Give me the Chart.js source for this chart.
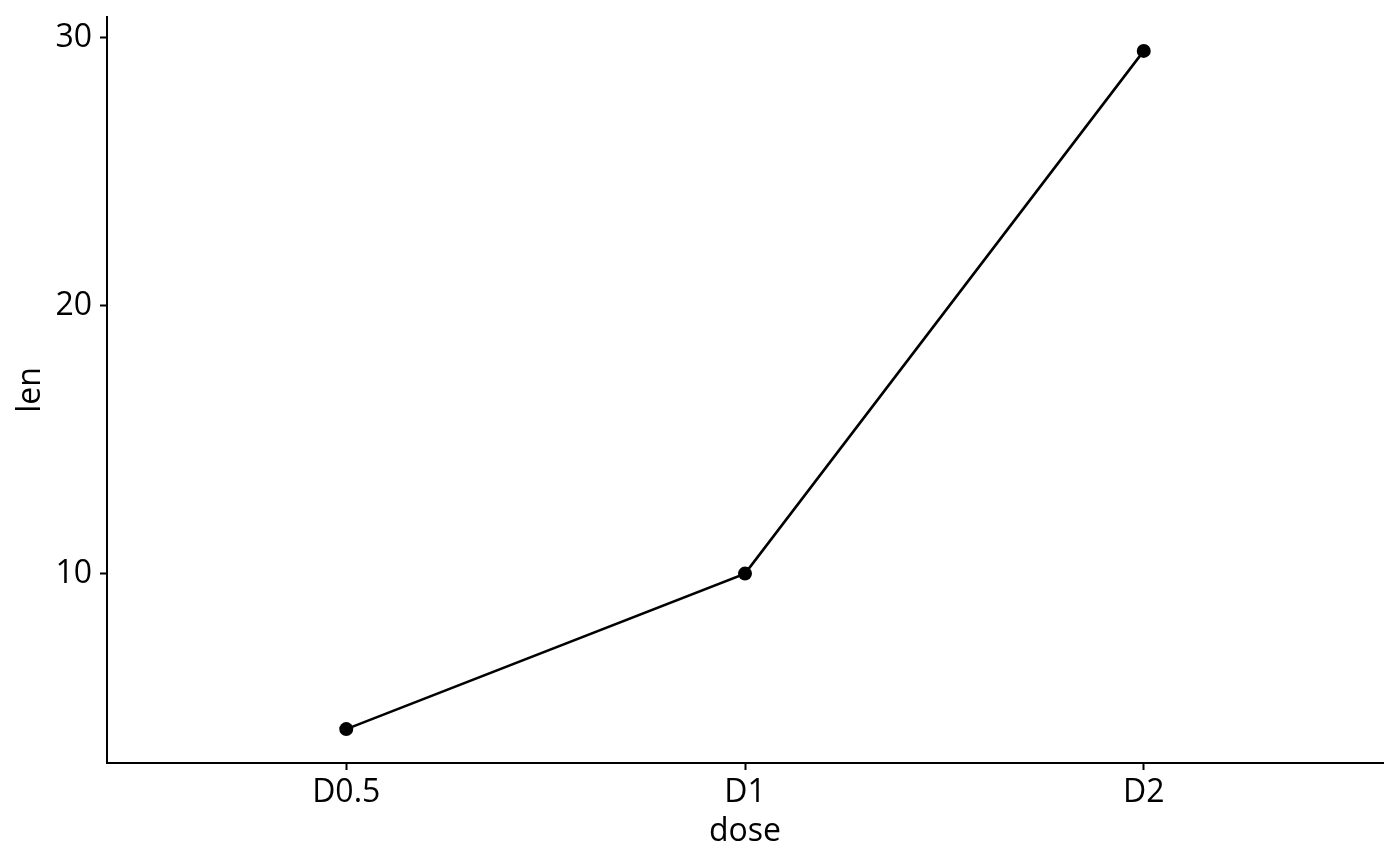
<!DOCTYPE html>
<html lang="en">
<head>
    <meta charset="UTF-8">
    <title>len by dose</title>
    <script src="https://cdn.jsdelivr.net/npm/chart.js"></script>
    <style>
        html, body {
            margin: 0;
            padding: 0;
            background: #fff;
        }
        canvas {
            display: block;
        }
    </style>
</head>
<body>
    <canvas id="doseChart" width="1400" height="866"></canvas>

    <script>
        // Data
        const doses = ['D0.5', 'D1', 'D2'];
        const lenValues = [4.2, 10, 29.5];
        const yTicks = [10, 20, 30];

        // ggplot-like expansion: 5% on the continuous axis, 0.6 on the discrete one
        const yMin = 4.2 - 0.05 * (29.5 - 4.2);
        const yMax = 29.5 + 0.05 * (29.5 - 4.2);

        Chart.defaults.font.family = '"Open Sans", "Noto Sans", sans-serif';
        Chart.defaults.color = '#000';

        const points = lenValues.map((v, i) => ({ x: i, y: v }));

        const ctx = document.getElementById('doseChart').getContext('2d');
        new Chart(ctx, {
            type: 'line',
            data: {
                datasets: [{
                    label: 'len',
                    data: points,
                    borderColor: '#000',
                    borderWidth: 2.6,
                    backgroundColor: '#000',
                    pointRadius: 7,
                    pointBorderWidth: 0,
                    pointBackgroundColor: '#000',
                    tension: 0,
                    fill: false
                }]
            },
            options: {
                responsive: false,
                animation: false,
                layout: {
                    padding: { top: 17, right: 17, left: 0, bottom: 0 }
                },
                plugins: {
                    legend: { display: false },
                    tooltip: { enabled: false }
                },
                scales: {
                    x: {
                        type: 'linear',
                        min: -0.6,
                        max: 2.6,
                        afterBuildTicks: (scale) => {
                            scale.ticks = doses.map((d, i) => ({ value: i }));
                        },
                        afterFit: (scale) => {
                            scale.height = 103;
                        },
                        ticks: {
                            callback: (value) => doses[value],
                            font: { size: 32 },
                            color: '#000',
                            padding: 4,
                            maxRotation: 0
                        },
                        grid: {
                            drawOnChartArea: false,
                            tickLength: 7,
                            tickWidth: 2,
                            tickColor: '#000'
                        },
                        border: { color: '#000', width: 2 },
                        title: {
                            display: true,
                            text: 'dose',
                            font: { size: 32 },
                            color: '#000',
                            padding: { top: 0, bottom: 15 }
                        }
                    },
                    y: {
                        min: yMin,
                        max: yMax,
                        afterBuildTicks: (scale) => {
                            scale.ticks = yTicks.map(v => ({ value: v }));
                        },
                        afterFit: (scale) => {
                            scale.width = 107;
                            scale.paddingTop = 0;
                            scale.paddingBottom = 0;
                        },
                        ticks: {
                            font: { size: 32 },
                            color: '#000',
                            padding: 8
                        },
                        grid: {
                            drawOnChartArea: false,
                            tickLength: 7,
                            tickWidth: 2,
                            tickColor: '#000'
                        },
                        border: { color: '#000', width: 2 },
                        title: {
                            display: true,
                            text: 'len',
                            font: { size: 32 },
                            color: '#000',
                            padding: { top: 12, bottom: 0 }
                        }
                    }
                }
            }
        });
    </script>
</body>
</html>
